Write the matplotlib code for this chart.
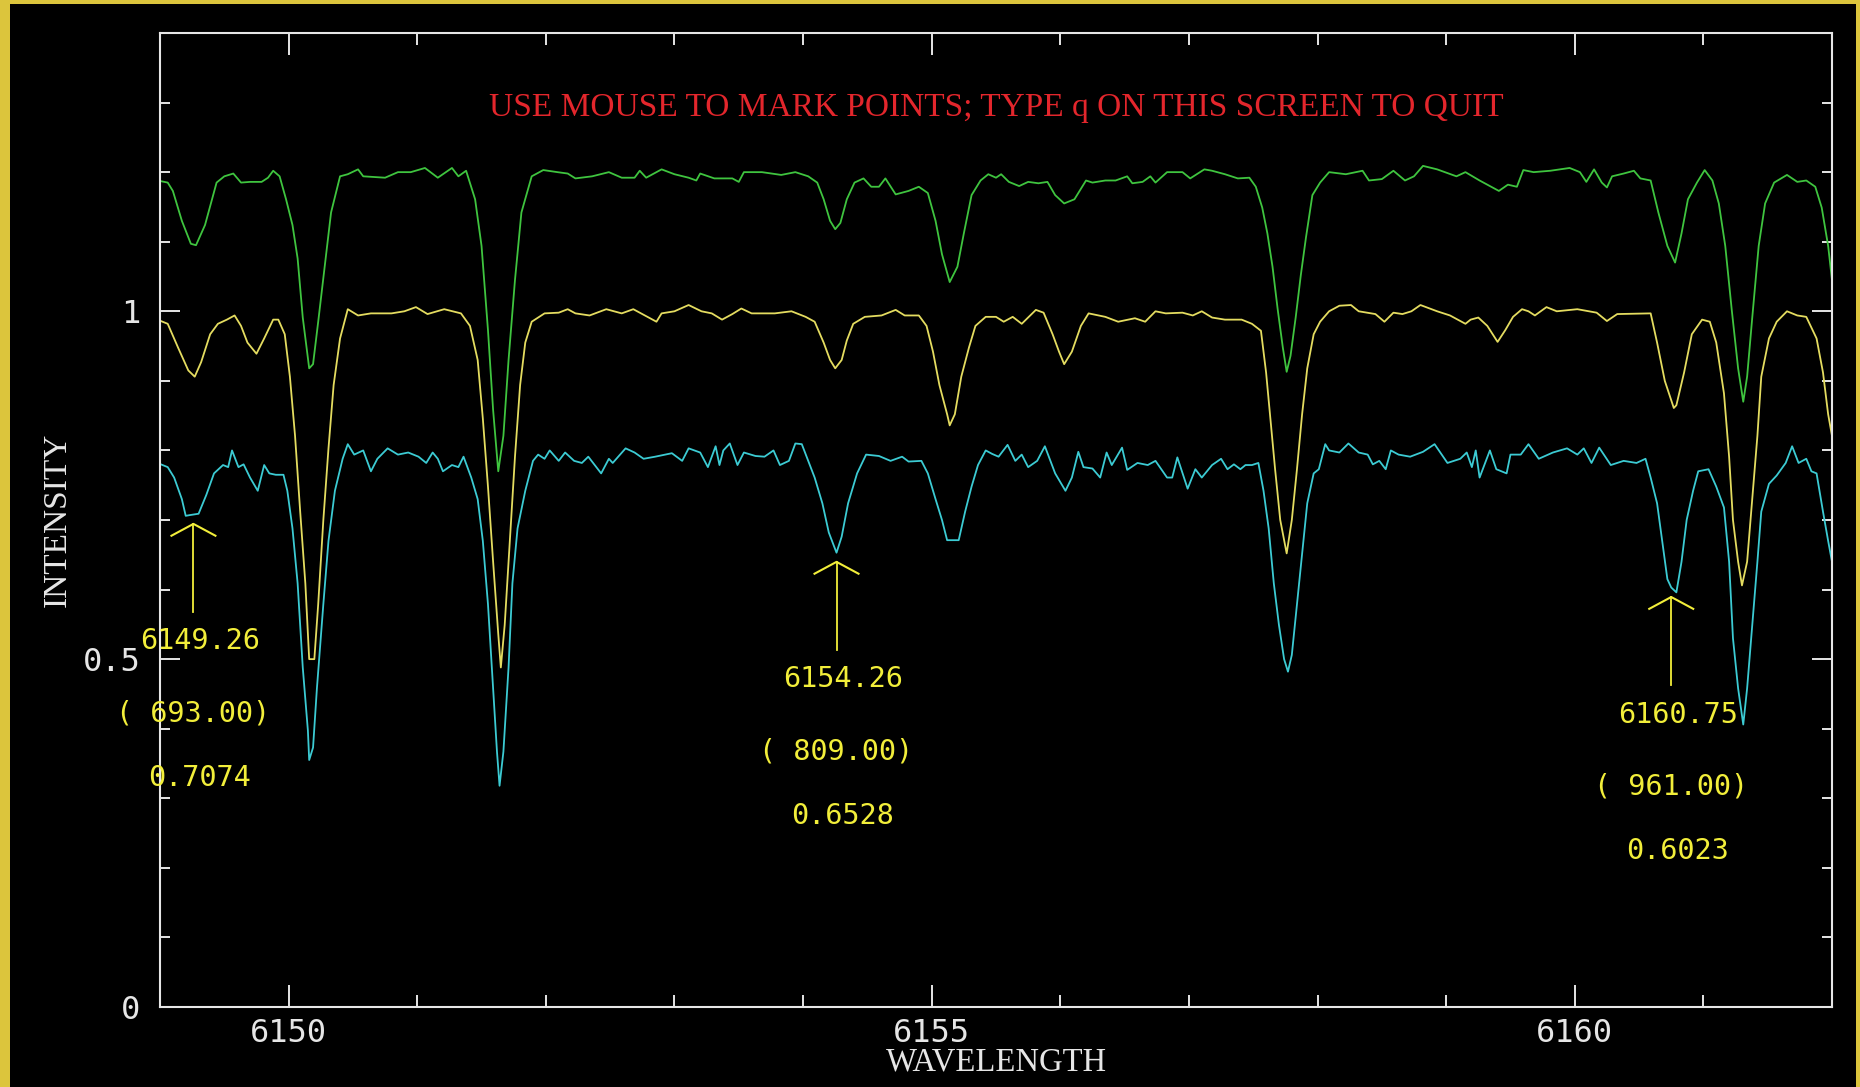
import matplotlib
matplotlib.use("Agg")
import matplotlib.pyplot as plt
from matplotlib.ticker import MultipleLocator
from matplotlib.patches import Rectangle

# --- spectra (wavelength in A, normalised intensity) ---
wl_green = [6148.98, 6149.06, 6149.10, 6149.17, 6149.24, 6149.28, 6149.35, 6149.44, 6149.50, 6149.57,
            6149.63, 6149.70, 6149.79, 6149.84, 6149.88, 6149.93, 6149.98, 6150.03, 6150.07, 6150.11,
            6150.16, 6150.19, 6150.23, 6150.28, 6150.33, 6150.40, 6150.46, 6150.54, 6150.58, 6150.75,
            6150.85, 6150.95, 6151.06, 6151.16, 6151.27, 6151.32, 6151.38, 6151.45, 6151.50, 6151.55,
            6151.59, 6151.63, 6151.67, 6151.71, 6151.76, 6151.81, 6151.89, 6151.98, 6152.09, 6152.17,
            6152.23, 6152.36, 6152.49, 6152.59, 6152.69, 6152.73, 6152.78, 6152.90, 6153.00, 6153.11,
            6153.17, 6153.20, 6153.31, 6153.45, 6153.50, 6153.54, 6153.68, 6153.83, 6153.94, 6154.04,
            6154.11, 6154.16, 6154.21, 6154.25, 6154.29, 6154.34, 6154.40, 6154.47, 6154.53, 6154.59,
            6154.64, 6154.72, 6154.82, 6154.90, 6154.97, 6155.03, 6155.08, 6155.14, 6155.20, 6155.25,
            6155.31, 6155.38, 6155.44, 6155.50, 6155.54, 6155.60, 6155.68, 6155.75, 6155.83, 6155.90,
            6155.96, 6156.03, 6156.11, 6156.20, 6156.25, 6156.35, 6156.43, 6156.52, 6156.56, 6156.64,
            6156.70, 6156.74, 6156.83, 6156.95, 6157.01, 6157.12, 6157.18, 6157.28, 6157.38, 6157.47,
            6157.52, 6157.57, 6157.61, 6157.65, 6157.69, 6157.73, 6157.76, 6157.79, 6157.83, 6157.87,
            6157.91, 6157.96, 6158.02, 6158.09, 6158.22, 6158.35, 6158.40, 6158.50, 6158.59, 6158.68,
            6158.75, 6158.82, 6158.93, 6159.08, 6159.15, 6159.26, 6159.41, 6159.48, 6159.55, 6159.60,
            6159.68, 6159.81, 6159.96, 6160.04, 6160.09, 6160.15, 6160.21, 6160.25, 6160.29, 6160.38,
            6160.46, 6160.51, 6160.59, 6160.65, 6160.72, 6160.78, 6160.83, 6160.88, 6160.95, 6161.01,
            6161.07, 6161.12, 6161.17, 6161.22, 6161.27, 6161.31, 6161.34, 6161.38, 6161.43, 6161.48,
            6161.55, 6161.65, 6161.73, 6161.80, 6161.87, 6161.92, 6161.97, 6162.00]
int_green = [1.188, 1.185, 1.173, 1.130, 1.097, 1.095, 1.124, 1.185, 1.194, 1.198,
             1.185, 1.186, 1.186, 1.192, 1.202, 1.194, 1.161, 1.124, 1.076, 0.991,
             0.918, 0.924, 0.985, 1.064, 1.142, 1.194, 1.197, 1.204, 1.194, 1.192,
             1.200, 1.200, 1.206, 1.192, 1.206, 1.194, 1.202, 1.161, 1.094, 0.973,
             0.858, 0.770, 0.821, 0.930, 1.045, 1.142, 1.194, 1.203, 1.200, 1.198,
             1.191, 1.194, 1.200, 1.192, 1.192, 1.202, 1.192, 1.204, 1.197, 1.192,
             1.188, 1.198, 1.191, 1.191, 1.186, 1.200, 1.200, 1.196, 1.200, 1.194,
             1.185, 1.161, 1.130, 1.118, 1.127, 1.161, 1.185, 1.191, 1.179, 1.179,
             1.191, 1.168, 1.173, 1.179, 1.170, 1.130, 1.082, 1.042, 1.064, 1.112,
             1.167, 1.188, 1.197, 1.192, 1.197, 1.186, 1.180, 1.186, 1.184, 1.186,
             1.167, 1.155, 1.161, 1.188, 1.185, 1.188, 1.188, 1.194, 1.184, 1.186,
             1.194, 1.185, 1.200, 1.200, 1.191, 1.204, 1.202, 1.197, 1.191, 1.192,
             1.179, 1.149, 1.112, 1.064, 1.003, 0.948, 0.913, 0.936, 0.991, 1.052,
             1.106, 1.167, 1.185, 1.200, 1.197, 1.202, 1.188, 1.190, 1.202, 1.188,
             1.194, 1.209, 1.204, 1.194, 1.200, 1.188, 1.173, 1.182, 1.179, 1.203,
             1.200, 1.202, 1.206, 1.200, 1.186, 1.204, 1.185, 1.178, 1.194, 1.198,
             1.202, 1.191, 1.188, 1.142, 1.094, 1.070, 1.112, 1.161, 1.185, 1.203,
             1.188, 1.155, 1.094, 1.003, 0.918, 0.870, 0.906, 0.991, 1.094, 1.155,
             1.185, 1.196, 1.186, 1.188, 1.179, 1.149, 1.094, 1.045]

wl_yellow = [6148.98, 6149.06, 6149.14, 6149.22, 6149.27, 6149.32, 6149.39, 6149.45, 6149.52, 6149.58,
             6149.63, 6149.68, 6149.75, 6149.81, 6149.88, 6149.92, 6149.97, 6150.01, 6150.05, 6150.09,
             6150.13, 6150.16, 6150.20, 6150.23, 6150.27, 6150.31, 6150.35, 6150.40, 6150.46, 6150.54,
             6150.64, 6150.80, 6150.90, 6150.99, 6151.08, 6151.21, 6151.34, 6151.41, 6151.47, 6151.51,
             6151.55, 6151.59, 6151.63, 6151.65, 6151.68, 6151.72, 6151.76, 6151.80, 6151.84, 6151.89,
             6151.99, 6152.10, 6152.17, 6152.23, 6152.34, 6152.47, 6152.59, 6152.68, 6152.77, 6152.86,
             6152.90, 6153.00, 6153.11, 6153.21, 6153.29, 6153.37, 6153.45, 6153.52, 6153.60, 6153.78,
             6153.91, 6154.02, 6154.09, 6154.16, 6154.21, 6154.25, 6154.30, 6154.34, 6154.39, 6154.48,
             6154.61, 6154.72, 6154.79, 6154.90, 6154.96, 6155.01, 6155.06, 6155.12, 6155.14, 6155.18,
             6155.23, 6155.29, 6155.34, 6155.42, 6155.50, 6155.56, 6155.63, 6155.70, 6155.81, 6155.87,
             6155.94, 6155.99, 6156.03, 6156.09, 6156.16, 6156.22, 6156.35, 6156.45, 6156.58, 6156.66,
             6156.74, 6156.82, 6156.95, 6157.03, 6157.10, 6157.18, 6157.28, 6157.41, 6157.49, 6157.56,
             6157.60, 6157.63, 6157.67, 6157.71, 6157.76, 6157.80, 6157.84, 6157.88, 6157.92, 6157.97,
             6158.02, 6158.09, 6158.17, 6158.26, 6158.32, 6158.45, 6158.52, 6158.59, 6158.66, 6158.73,
             6158.80, 6158.93, 6159.03, 6159.15, 6159.19, 6159.25, 6159.32, 6159.40, 6159.46, 6159.52,
             6159.59, 6159.64, 6159.69, 6159.78, 6159.86, 6160.02, 6160.17, 6160.25, 6160.33, 6160.59,
             6160.64, 6160.70, 6160.77, 6160.79, 6160.85, 6160.91, 6160.99, 6161.05, 6161.10, 6161.16,
             6161.20, 6161.23, 6161.27, 6161.30, 6161.34, 6161.38, 6161.42, 6161.45, 6161.51, 6161.57,
             6161.65, 6161.73, 6161.80, 6161.88, 6161.93, 6161.97, 6162.00]
int_yellow = [0.988, 0.982, 0.948, 0.915, 0.906, 0.927, 0.967, 0.982, 0.988, 0.994,
              0.979, 0.955, 0.939, 0.961, 0.988, 0.988, 0.967, 0.906, 0.821, 0.712,
              0.609, 0.500, 0.500, 0.579, 0.700, 0.803, 0.894, 0.961, 1.003, 0.994,
              0.997, 0.997, 1.000, 1.006, 0.996, 1.003, 0.997, 0.979, 0.930, 0.846,
              0.748, 0.640, 0.536, 0.488, 0.549, 0.670, 0.791, 0.894, 0.955, 0.985,
              0.997, 0.998, 1.003, 0.997, 0.994, 1.003, 0.997, 1.003, 0.994, 0.985,
              0.997, 1.000, 1.009, 1.000, 0.997, 0.988, 0.996, 1.004, 0.997, 0.997,
              1.000, 0.992, 0.985, 0.955, 0.930, 0.918, 0.930, 0.958, 0.982, 0.992,
              0.994, 1.002, 0.994, 0.994, 0.979, 0.942, 0.894, 0.852, 0.836, 0.852,
              0.906, 0.948, 0.979, 0.992, 0.992, 0.985, 0.992, 0.982, 1.002, 0.998,
              0.967, 0.942, 0.924, 0.942, 0.979, 0.997, 0.992, 0.985, 0.990, 0.985,
              1.000, 0.997, 0.998, 0.994, 1.000, 0.991, 0.988, 0.988, 0.982, 0.972,
              0.912, 0.852, 0.773, 0.700, 0.652, 0.700, 0.773, 0.852, 0.918, 0.967,
              0.985, 1.000, 1.008, 1.009, 1.000, 0.996, 0.985, 0.998, 0.996, 1.000,
              1.009, 1.000, 0.994, 0.982, 0.988, 0.991, 0.979, 0.956, 0.973, 0.992,
              1.003, 1.000, 0.994, 1.006, 1.000, 1.003, 0.998, 0.986, 0.996, 0.997,
              0.955, 0.900, 0.861, 0.865, 0.912, 0.967, 0.988, 0.985, 0.955, 0.882,
              0.791, 0.700, 0.640, 0.606, 0.640, 0.730, 0.821, 0.906, 0.961, 0.985,
              1.000, 0.994, 0.992, 0.961, 0.912, 0.852, 0.821]

wl_cyan = [6148.98, 6149.06, 6149.11, 6149.17, 6149.20, 6149.23, 6149.30, 6149.36, 6149.42, 6149.49,
           6149.53, 6149.56, 6149.61, 6149.65, 6149.70, 6149.76, 6149.81, 6149.85, 6149.90, 6149.96,
           6149.99, 6150.03, 6150.07, 6150.11, 6150.15, 6150.16, 6150.19, 6150.22, 6150.27, 6150.31,
           6150.36, 6150.42, 6150.46, 6150.51, 6150.58, 6150.64, 6150.69, 6150.77, 6150.85, 6150.93,
           6151.01, 6151.07, 6151.12, 6151.16, 6151.20, 6151.27, 6151.32, 6151.36, 6151.42, 6151.47,
           6151.51, 6151.55, 6151.59, 6151.62, 6151.64, 6151.67, 6151.71, 6151.74, 6151.78, 6151.84,
           6151.90, 6151.94, 6151.99, 6152.03, 6152.10, 6152.15, 6152.22, 6152.28, 6152.33, 6152.38,
           6152.43, 6152.49, 6152.52, 6152.62, 6152.69, 6152.76, 6152.85, 6152.98, 6153.06, 6153.11,
           6153.20, 6153.26, 6153.32, 6153.35, 6153.38, 6153.43, 6153.49, 6153.54, 6153.63, 6153.70,
           6153.77, 6153.82, 6153.89, 6153.94, 6153.99, 6154.04, 6154.09, 6154.15, 6154.20, 6154.26,
           6154.30, 6154.35, 6154.42, 6154.49, 6154.59, 6154.68, 6154.77, 6154.82, 6154.92, 6154.97,
           6155.03, 6155.08, 6155.12, 6155.21, 6155.26, 6155.31, 6155.36, 6155.42, 6155.47, 6155.52,
           6155.59, 6155.65, 6155.70, 6155.75, 6155.82, 6155.88, 6155.96, 6156.04, 6156.09, 6156.14,
           6156.18, 6156.25, 6156.31, 6156.36, 6156.40, 6156.48, 6156.52, 6156.60, 6156.68, 6156.74,
           6156.83, 6156.87, 6156.91, 6156.99, 6157.05, 6157.10, 6157.18, 6157.25, 6157.30, 6157.35,
           6157.40, 6157.44, 6157.49, 6157.54, 6157.58, 6157.62, 6157.66, 6157.70, 6157.74, 6157.77,
           6157.80, 6157.84, 6157.88, 6157.92, 6157.97, 6158.01, 6158.06, 6158.09, 6158.17, 6158.24,
           6158.32, 6158.39, 6158.43, 6158.48, 6158.53, 6158.57, 6158.63, 6158.72, 6158.82, 6158.91,
           6159.01, 6159.11, 6159.16, 6159.20, 6159.23, 6159.26, 6159.34, 6159.39, 6159.47, 6159.50,
           6159.58, 6159.64, 6159.72, 6159.83, 6159.94, 6160.02, 6160.07, 6160.13, 6160.19, 6160.28,
           6160.38, 6160.48, 6160.55, 6160.59, 6160.64, 6160.68, 6160.72, 6160.75, 6160.79, 6160.83,
           6160.87, 6160.92, 6160.96, 6161.04, 6161.10, 6161.16, 6161.20, 6161.23, 6161.27, 6161.31,
           6161.34, 6161.38, 6161.42, 6161.45, 6161.51, 6161.57, 6161.64, 6161.69, 6161.74, 6161.80,
           6161.84, 6161.88, 6161.93, 6161.97, 6162.00]
int_cyan = [0.782, 0.776, 0.761, 0.730, 0.706, 0.707, 0.709, 0.736, 0.767, 0.779,
            0.776, 0.800, 0.776, 0.780, 0.761, 0.742, 0.779, 0.767, 0.765, 0.765,
            0.742, 0.688, 0.609, 0.488, 0.397, 0.355, 0.373, 0.458, 0.579, 0.670,
            0.742, 0.788, 0.809, 0.794, 0.800, 0.770, 0.788, 0.803, 0.794, 0.797,
            0.791, 0.782, 0.797, 0.788, 0.770, 0.779, 0.776, 0.791, 0.761, 0.730,
            0.670, 0.579, 0.458, 0.367, 0.318, 0.367, 0.488, 0.609, 0.688, 0.742,
            0.785, 0.794, 0.788, 0.800, 0.785, 0.797, 0.785, 0.782, 0.791, 0.779,
            0.767, 0.788, 0.782, 0.803, 0.797, 0.788, 0.791, 0.796, 0.785, 0.803,
            0.797, 0.776, 0.806, 0.779, 0.800, 0.810, 0.779, 0.797, 0.792, 0.791,
            0.800, 0.779, 0.785, 0.810, 0.809, 0.785, 0.761, 0.724, 0.682, 0.653,
            0.676, 0.724, 0.767, 0.794, 0.792, 0.785, 0.791, 0.784, 0.785, 0.767,
            0.730, 0.700, 0.671, 0.671, 0.712, 0.748, 0.779, 0.800, 0.795, 0.791,
            0.808, 0.785, 0.794, 0.776, 0.785, 0.806, 0.767, 0.742, 0.761, 0.798,
            0.776, 0.774, 0.761, 0.797, 0.779, 0.804, 0.772, 0.782, 0.779, 0.785,
            0.761, 0.761, 0.790, 0.745, 0.773, 0.761, 0.779, 0.788, 0.773, 0.780,
            0.773, 0.779, 0.779, 0.782, 0.742, 0.688, 0.609, 0.549, 0.500, 0.482,
            0.506, 0.579, 0.652, 0.724, 0.767, 0.773, 0.809, 0.800, 0.797, 0.810,
            0.797, 0.794, 0.780, 0.785, 0.773, 0.800, 0.794, 0.791, 0.798, 0.809,
            0.782, 0.788, 0.797, 0.776, 0.800, 0.761, 0.800, 0.773, 0.767, 0.794,
            0.794, 0.809, 0.788, 0.797, 0.803, 0.794, 0.803, 0.782, 0.804, 0.779,
            0.785, 0.782, 0.788, 0.761, 0.724, 0.670, 0.615, 0.603, 0.596, 0.640,
            0.700, 0.742, 0.770, 0.773, 0.748, 0.718, 0.640, 0.530, 0.458, 0.406,
            0.458, 0.549, 0.640, 0.712, 0.752, 0.764, 0.782, 0.806, 0.782, 0.788,
            0.770, 0.767, 0.712, 0.670, 0.640]

# points marked with the mouse: wavelength, pixel, intensity
mark_wl = [6149.26, 6154.26, 6160.75]
mark_pix = [693.00, 809.00, 961.00]
mark_int = [0.7074, 0.6528, 0.6023]

xticks = [6150, 6155, 6160]
yticks = [0, 0.5, 1]
ytick_labels = ["0", "0.5", "1"]

W, H = 1860, 1087
fig = plt.figure(figsize=(W / 100, H / 100), dpi=100, facecolor="#dcc53c")
fig.patches.append(Rectangle((10 / W, 0), (1856 - 10) / W, 1 - 4 / H,
                             transform=fig.transFigure, facecolor="black",
                             edgecolor="none", zorder=-5))

ax = fig.add_axes([160 / W, 1 - 1007 / H, (1832 - 160) / W, (1007 - 33) / H], facecolor="black")

ax.plot(wl_green, int_green, color="#3fc43f", lw=1.3)
ax.plot(wl_yellow, int_yellow, color="#e4dc60", lw=1.3)
ax.plot(wl_cyan, int_cyan, color="#3ccbd3", lw=1.3)

# arrows + labels under each marked point
yel = "#f2ee3a"
mono = "DejaVu Sans Mono"
for wl, pix, val in zip(mark_wl, mark_pix, mark_int):
    tip = val - 0.013
    ax.plot([wl, wl], [val - 0.14, tip], color=yel, lw=1.3)
    ax.plot([wl - 0.171, wl, wl + 0.171], [tip - 0.017, tip, tip - 0.017], color=yel, lw=1.5)
    ax.text(wl + 0.05, val - 0.182, f"{wl:.2f}", color=yel, fontsize=20.5,
            family=mono, ha="center", va="center")
    ax.text(wl, val - 0.285, f"({pix:7.2f})", color=yel, fontsize=20.5,
            family=mono, ha="center", va="center")
    ax.text(wl + 0.05, val - 0.378, f"{val:.4f}", color=yel, fontsize=20.5,
            family=mono, ha="center", va="center")

ax.text(0.5, 0.923, "USE MOUSE TO MARK POINTS; TYPE q ON THIS SCREEN TO QUIT",
        transform=ax.transAxes, color="#e3262c", fontsize=24,
        family="Liberation Serif", ha="center", va="center")

ax.set_xlim(6149, 6162)
ax.set_ylim(0, 1.4)
ax.set_xticks(xticks)
ax.set_yticks(yticks)
ax.set_yticklabels(ytick_labels)
ax.xaxis.set_minor_locator(MultipleLocator(1))
ax.yaxis.set_minor_locator(MultipleLocator(0.1))

fg = "#e6e6e6"
for s in ax.spines.values():
    s.set_color(fg)
    s.set_linewidth(1.5)
ax.tick_params(which="both", direction="in", top=True, right=True, color=fg,
               width=1.4, labelcolor=fg, labelsize=23)
ax.tick_params(axis="x", which="major", length=15.5, pad=8)
ax.tick_params(axis="x", which="minor", length=8.5)
ax.tick_params(axis="y", which="major", length=14.5, pad=14)
ax.tick_params(axis="y", which="minor", length=7.5)
for lab in ax.get_xticklabels() + ax.get_yticklabels():
    lab.set_family(mono)

ax.set_xlabel("WAVELENGTH", color=fg, fontsize=23.5, family="Liberation Serif", va="center")
ax.xaxis.set_label_coords(0.5, (1007 - 1062) / 974)
ax.set_ylabel("INTENSITY", color=fg, fontsize=24, family="Liberation Serif", va="center")
ax.yaxis.set_label_coords((57 - 160) / 1672, 0.5)

fig.savefig("out.png", dpi=100, facecolor=fig.get_facecolor())
